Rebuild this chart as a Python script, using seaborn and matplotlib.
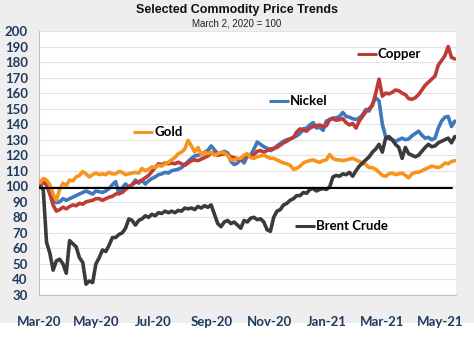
import matplotlib
matplotlib.use("Agg")
import matplotlib.pyplot as plt
import matplotlib.dates as mdates
from matplotlib.patches import Rectangle
import seaborn as sns
import pandas as pd

# ---- data (index, March 2, 2020 = 100), readings every half week ----
start_date = "2020-03-02"
step = "84h"

copper = [100, 103, 101, 95, 88, 84, 85, 86.5, 85.5, 87,
          88, 87.5, 89, 88.5, 90, 90.5, 91, 92, 92, 91,
          92, 93, 93.5, 95, 95.5, 96, 98, 99.5, 101, 102.5,
          103, 104, 105.5, 107, 109.5, 112, 114.5, 114, 115, 114.5,
          115, 114.5, 115.5, 114.5, 113.5, 115, 116.5, 117, 116.5, 117.5,
          118.5, 119.5, 121.5, 121.5, 120, 120.5, 121, 120.5, 119, 118.5,
          117.5, 117, 119, 120, 119, 120.5, 122.5, 123, 122, 123,
          124, 124.5, 125, 126.5, 128, 129, 130.5, 131.5, 135, 137,
          136, 135.5, 137.5, 138.5, 139, 139.5, 138.5, 139, 143, 143.5,
          142.5, 143, 143.5, 141, 139.5, 140.5, 137.5, 142, 145, 148,
          150, 152, 160, 169, 158, 160, 159.5, 160.5, 162, 161.5,
          160, 159, 156.5, 156, 157, 159, 162, 165, 167, 169,
          171, 178, 181, 184, 190, 183, 182]

nickel = [100, 103, 101, 96, 91, 89.5, 90, 92, 91, 92,
          93, 94, 95, 96, 97, 96, 95, 97, 96.5, 96,
          97, 98.5, 101, 103, 95, 99, 101.5, 99.5, 101, 104,
          102, 104, 101.5, 103.5, 105, 106, 107.5, 108, 109, 108.5,
          110, 110.5, 111, 112, 114, 116, 118, 119.5, 120, 120.5,
          122, 123, 126, 123.5, 121, 121, 122.5, 121.5, 116, 114,
          115, 117.5, 115, 119.5, 120, 124, 128.5, 127, 125.5, 124.5,
          123, 124, 126, 127.5, 129, 130, 130.5, 131.5, 132.5, 134,
          137, 137.5, 139.5, 141, 137.5, 138, 136, 142, 143, 144,
          144, 145, 147.5, 145, 144.5, 143.5, 143, 144, 146, 149.5,
          148.5, 153, 157, 155, 140, 132, 130.5, 130, 129, 130,
          131, 130, 130.5, 132.5, 134, 135.5, 133, 131, 131.5, 130,
          131, 137.5, 142, 144.5, 145, 138.5, 142]

gold = [102, 105, 104, 101, 95, 91, 98, 102, 100.5, 104,
        103.5, 106, 107, 109.5, 108, 106, 107.5, 108.5, 107.5, 108,
        107.5, 109, 108, 108, 109.5, 109, 107.5, 108, 108.5, 109,
        108.5, 111.5, 110, 111, 112.5, 112, 113.5, 113, 114.5, 115.5,
        117, 118.5, 121, 122, 124, 129.5, 126, 122, 125, 120.5,
        122, 121, 122, 120, 121, 122, 121.5, 120, 117, 117,
        118, 118, 120, 121, 118.5, 118, 119, 119.5, 120, 119,
        118, 118, 117, 116, 115, 114.5, 113.5, 111, 111.5, 113,
        115, 116, 116.5, 117, 116, 115.5, 116.5, 117, 120.5, 118,
        117, 117, 116.5, 117, 117.5, 118, 117, 116, 115, 114,
        112, 112, 111, 109, 107, 106.5, 108, 108.5, 107.5, 108,
        108.5, 107, 105.5, 108, 109, 109, 110, 111, 112, 113,
        112.5, 112, 113, 115, 114.5, 116, 116.5]

brent = [100, 98, 64, 57, 46, 52, 53, 50, 44, 65,
         63, 61, 54, 51, 37, 39, 38, 50, 54, 59,
         58, 62, 67, 67, 69, 70, 73, 79, 78, 75,
         78, 79, 81, 80, 82, 81, 83, 82.5, 84, 83,
         84, 83, 84.5, 84, 86, 85.5, 86, 85, 87, 86,
         87.5, 86.5, 88, 82, 76, 74, 77, 78, 76, 77,
         75, 73, 78, 77, 79.5, 80, 78.5, 79, 77, 72,
         71, 80, 84, 85, 88, 89, 91, 92, 94, 94,
         96, 95.5, 98, 98.5, 97, 98, 98.5, 98, 99.5, 106,
         107, 106.5, 108, 107.5, 109, 106.5, 110, 113, 115, 117,
         119, 122, 124, 127, 122, 131, 132, 130, 127, 125,
         118, 125, 121, 120, 119, 120, 122.5, 125, 127, 125.5,
         126, 128, 129, 130, 131, 128, 132]

series_names = ["Nickel", "Copper", "Gold", "Brent Crude"]
series_values = [nickel, copper, gold, brent]
baseline = 99

y_ticks = list(range(30, 201, 10))

colors = {"Copper": "#bf3b36", "Nickel": "#3f78bf", "Gold": "#f7941d",
          "Brent Crude": "#3b3b3b"}

# ---- build long-form table ----
frames = []
for name, vals in zip(series_names, series_values):
    dates = pd.date_range(start_date, periods=len(vals), freq=step)
    frames.append(pd.DataFrame({"date": dates, "value": vals, "series": name}))
df = pd.concat(frames, ignore_index=True)

# ---- figure ----
sns.set_theme(style="white")
plt.rcParams["font.family"] = ["Lato", "DejaVu Sans"]

W, H = 474, 337
fig = plt.figure(figsize=(W / 100, H / 100), dpi=100)
fig.patch.set_facecolor("#eeeeee")
fig.add_artist(Rectangle((0, 0), 1, 14 / H, transform=fig.transFigure,
                         facecolor="white", edgecolor="none", zorder=0))

ax = fig.add_axes([39 / W, 1 - 295 / H, (455.7 - 39) / W, (295 - 31) / H])
ax.set_facecolor("white")

sns.lineplot(data=df, x="date", y="value", hue="series", hue_order=series_names,
             palette=colors, linewidth=2.6, legend=False, ax=ax, zorder=3)
ax.axhline(baseline, color="black", linewidth=1.5, zorder=4, xmin=0, xmax=0.99)

# axes limits / ticks
ax.set_ylim(30, 200)
ax.set_yticks(y_ticks)
ax.set_xlim(pd.Timestamp("2020-03-01"), pd.Timestamp("2021-05-18"))
ax.xaxis.set_major_locator(mdates.MonthLocator(bymonth=[1, 3, 5, 7, 9, 11]))
ax.xaxis.set_minor_locator(mdates.MonthLocator())
ax.xaxis.set_major_formatter(mdates.DateFormatter("%b-%y"))

ax.grid(axis="y", color="#e3e3e3", linewidth=0.8, zorder=0)
for s in ["top", "right"]:
    ax.spines[s].set_visible(False)
for s in ["left", "bottom"]:
    ax.spines[s].set_color("#bfbfbf")
    ax.spines[s].set_linewidth(0.8)

label_color = "#1f3a5f"
ax.tick_params(axis="y", which="both", direction="out", length=4, width=0.8,
               color="#bfbfbf", pad=4, labelsize=9.5, labelcolor=label_color)
ax.tick_params(axis="x", which="both", direction="out", length=4, width=0.8,
               color="#bfbfbf", pad=11, labelsize=9.5, labelcolor=label_color)
for lab in ax.get_xticklabels() + ax.get_yticklabels():
    lab.set_fontweight("bold")
ax.set_xlabel("")
ax.set_ylabel("")

# titles
fig.text(0.5, 1 - 10 / H, "Selected Commodity Price Trends", ha="center", va="center",
         fontsize=9, fontweight="bold", family="Liberation Sans", color="#111111")
fig.text(0.5, 1 - 24 / H, "March 2, 2020 = 100", ha="center", va="center",
         fontsize=7, family="Liberation Sans", color="#222222")

# series labels with short leader lines
label_pos = {"Copper": (0.763, 0.913), "Nickel": (0.552, 0.735),
             "Gold": (0.226, 0.616), "Brent Crude": (0.614, 0.262)}
seg = 0.048
for name, (lx, ly) in label_pos.items():
    ax.plot([lx, lx + seg], [ly, ly], transform=ax.transAxes,
            color=colors[name], linewidth=2.2, zorder=5, solid_capstyle="butt")
    ax.text(lx + seg + 0.002, ly, name, transform=ax.transAxes, ha="left",
            va="center", fontsize=9.5, fontweight="bold", color="black", zorder=6)

fig.savefig("out.png", dpi=100, facecolor=fig.get_facecolor())
